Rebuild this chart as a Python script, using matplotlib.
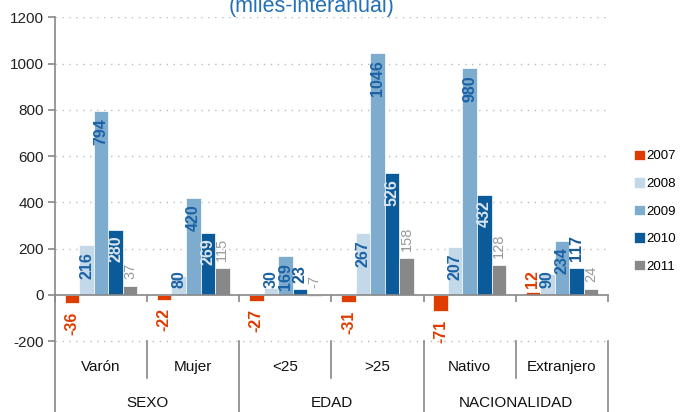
import numpy as np
import matplotlib
matplotlib.use("Agg")
from matplotlib import pyplot as plt
from matplotlib.patches import Patch

plt.rcParams['font.family'] = ['Liberation Sans', 'DejaVu Sans']

#datos
cats = ['Varón', 'Mujer', '<25', '>25', 'Nativo', 'Extranjero']
supers = ['SEXO', 'EDAD', 'NACIONALIDAD']
years = ['2007', '2008', '2009', '2010', '2011']
s2007 = [-36, -22, -27, -31, -71, 12]
s2008 = [216, 80, 30, 267, 207, 90]
s2009 = [794, 420, 169, 1046, 980, 234]
s2010 = [280, 269, 23, 526, 432, 117]
s2011 = [37, 115, -7, 158, 128, 24]
series = [s2007, s2008, s2009, s2010, s2011]

colors = ['#e03c00', '#c3d9e9', '#7eaccf', '#0b5a99', '#888888']
GRAY = '#888888'

fig = plt.figure(figsize=(6.87, 4.12), dpi=100)
ax = fig.add_axes([55/687, 0, 553/687, (412-17.3)/412])
ax.set_xlim(-0.5, 5.5)
ax.set_ylim(-507, 1200)

x = np.arange(len(cats))
w = 0.158
px_per_unit = (412-17.3) / 1707.0

def fits(v):
    # cabe la etiqueta dentro de la barra?
    return abs(v) * px_per_unit > len(str(abs(v))) * 8.9 + 8

for i, (vals, c) in enumerate(zip(series, colors)):
    xs = x + (i - 2) * w
    ax.bar(xs, vals, w, color=c, edgecolor='white', linewidth=0.5, zorder=3)
    for xi, v in zip(xs, vals):
        kw = dict(rotation=90, ha='center', textcoords='offset points',
                  annotation_clip=False, zorder=4)
        if i == 0:
            if v < 0:
                ax.annotate(str(v), (xi, v), xytext=(0, -6), va='top', color=colors[0],
                            fontsize=11.5, fontweight='bold', **kw)
            else:
                ax.annotate(str(v), (xi, 0), xytext=(0, 5), va='bottom', color=colors[0],
                            fontsize=11.5, fontweight='bold', **kw)
        elif i in (1, 2):
            if fits(v):
                ax.annotate(str(v), (xi, v), xytext=(0, -5), va='top', color='#1b63a5',
                            fontsize=11.5, fontweight='bold', **kw)
            else:
                ax.annotate(str(v), (xi, 0), xytext=(0, 5), va='bottom', color='#1b63a5',
                            fontsize=11.5, fontweight='bold', **kw)
        elif i == 3:
            if fits(v):
                ax.annotate(str(v), (xi, v), xytext=(0, -4), va='top', color='#dbe5ee',
                            fontsize=11.5, fontweight='bold', **kw)
            else:
                ax.annotate(str(v), (xi, v), xytext=(0, 5), va='bottom', color='#155a96',
                            fontsize=11.5, fontweight='bold', **kw)
        else:
            ax.annotate(str(v), (xi, max(v, 0)), xytext=(0, 5), va='bottom', color='#9a9a9a',
                        fontsize=10.5, **kw)

#ejes
yt = np.arange(-200, 1201, 200)
ax.set_yticks(yt)
ax.set_yticklabels([str(t) for t in yt], fontsize=11, color='#222222')
ax.tick_params(axis='y', length=5, width=1.2, color=GRAY, pad=3)
for t in yt:
    if t != 0:
        ax.axhline(t, color='#bbbbbb', linestyle=(0, (1, 4)), linewidth=1.0, zorder=1)

bounds = np.arange(-0.5, 5.6, 1)
ax.spines['bottom'].set_position(('data', 0))
ax.spines['bottom'].set_color(GRAY)
ax.spines['bottom'].set_linewidth(1.2)
ax.spines['bottom'].set_zorder(5)
ax.set_xticks(bounds)
ax.set_xticklabels([''] * len(bounds))
ax.tick_params(axis='x', length=5, width=1.2, color=GRAY, direction='out')
ax.spines['left'].set_color(GRAY)
ax.spines['left'].set_linewidth(1.2)
ax.spines['top'].set_visible(False)
ax.spines['right'].set_visible(False)

#categorias
for xi, c in zip(x, cats):
    ax.text(xi, -313, c, ha='center', va='center', fontsize=11, color='#111111')
for k, s in enumerate(supers):
    ax.text(2 * k + 0.5, -468, s, ha='center', va='center', fontsize=11, color='#111111')
for b in bounds[1:]:
    k = int(round(b + 0.5))
    low = -507 if k % 2 == 0 else -360
    ax.plot([b, b], [-200, low], color=GRAY, linewidth=1.2, clip_on=False, zorder=5)

#titulo
fig.text(312/687, 1 - 11.7/412, '(miles-interanual)', ha='center', va='baseline',
         fontsize=15.5, color='#2370b4')

#leyenda
handles = [Patch(facecolor=c, edgecolor='white', linewidth=0.5) for c in colors]
fig.legend(handles, years, loc='upper left', bbox_to_anchor=(634/687, 1 - 149.5/412),
           frameon=False, fontsize=9.5, handlelength=0.85, handleheight=0.85,
           handletextpad=0.1, labelspacing=1.12, borderpad=0, borderaxespad=0)

fig.savefig('out.png', dpi=100)
